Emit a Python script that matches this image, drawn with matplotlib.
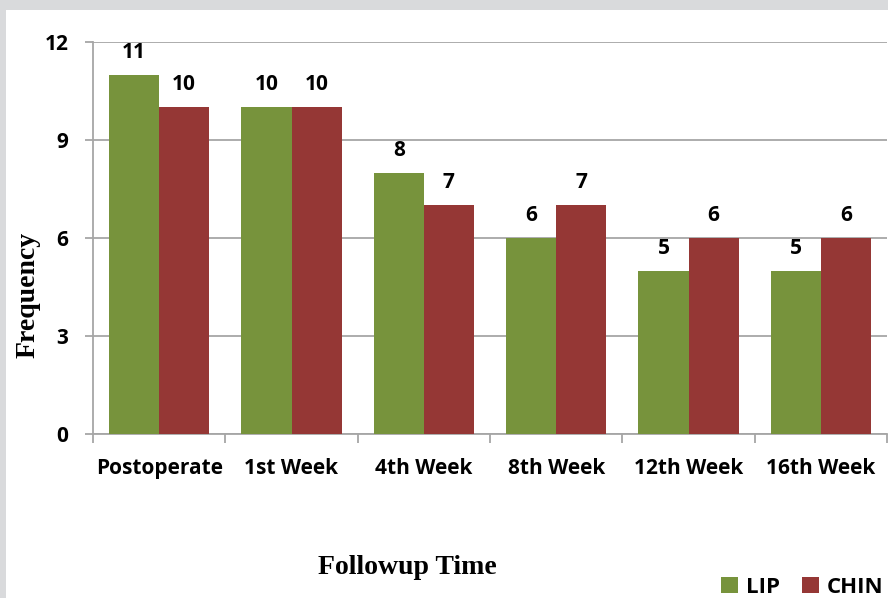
import numpy as np
import matplotlib.pyplot as plt
from matplotlib.patches import Rectangle

categories = ["Postoperate", "1st Week", "4th Week", "8th Week", "12th Week", "16th Week"]
lip = [11, 10, 8, 6, 5, 5]
chin = [10, 10, 7, 7, 6, 6]

green = "#77933C"
red = "#953735"
grid_c = "#a6a6a6"
tick_font = "Open Sans"

fig = plt.figure(figsize=(8.88, 5.98), dpi=100, facecolor="#d9dadc")
# white panel inside the grey frame
fig.patches.append(Rectangle((6 / 888, 0), 1, 1 - 10 / 598, transform=fig.transFigure,
                             facecolor="white", edgecolor="none", zorder=-5))

ax = fig.add_axes([93 / 888, 1 - 434 / 598, 794 / 888, 392 / 598])
ax.set_facecolor("none")

x = np.arange(len(categories))
w = 0.378
b1 = ax.bar(x - w / 2, lip, w, color=green, label="LIP", zorder=3)
b2 = ax.bar(x + w / 2, chin, w, color=red, label="CHIN", zorder=3)

for bars in (b1, b2):
    for r in bars:
        ax.text(r.get_x() + r.get_width() / 2, r.get_height() + 0.52, str(int(r.get_height())),
                ha="center", va="baseline", fontsize=15, fontweight="bold", family=tick_font)

ax.set_xlim(-0.5, len(categories) - 0.5)
ax.set_ylim(0, 12)
ax.set_yticks([0, 3, 6, 9, 12])
ax.yaxis.grid(True, color=grid_c, linewidth=1.3, zorder=0)

for s in ["top", "right"]:
    ax.spines[s].set_visible(False)
ax.spines["left"].set_color(grid_c)
ax.spines["bottom"].set_color(grid_c)
ax.spines["left"].set_linewidth(1.3)
ax.spines["bottom"].set_linewidth(1.3)

ax.set_xticks(x)
ax.set_xticklabels(categories)
ax.tick_params(axis="x", length=0, pad=17)
ax.set_xticks(np.arange(-0.5, len(categories)), minor=True)
ax.tick_params(axis="x", which="minor", length=6.5, color=grid_c, width=1.3)
ax.tick_params(axis="y", length=5.8, color=grid_c, width=1.3, pad=12)
for lbl in ax.get_xticklabels() + ax.get_yticklabels():
    lbl.set_fontsize(15)
    lbl.set_fontweight("bold")
    lbl.set_family(tick_font)

fig.text(28 / 888, 1 - 295 / 598, "Frequency", rotation=90, ha="center", va="center",
         fontsize=20, fontweight="bold", family="Liberation Serif")
fig.text(407 / 888, 1 - 567 / 598, "Followup Time", ha="center", va="center",
         fontsize=20, fontweight="bold", family="Liberation Serif")

fig.legend(handles=[b1, b2], labels=["LIP", "CHIN"], loc="center right",
           bbox_to_anchor=(1.012, 0.018), ncol=2, frameon=False, borderpad=0.2,
           handlelength=0.75, handleheight=0.75, handletextpad=0.35, columnspacing=1.0,
           prop={"family": tick_font, "weight": "bold", "size": 16})

fig.savefig("out.png", dpi=100, facecolor=fig.get_facecolor())
